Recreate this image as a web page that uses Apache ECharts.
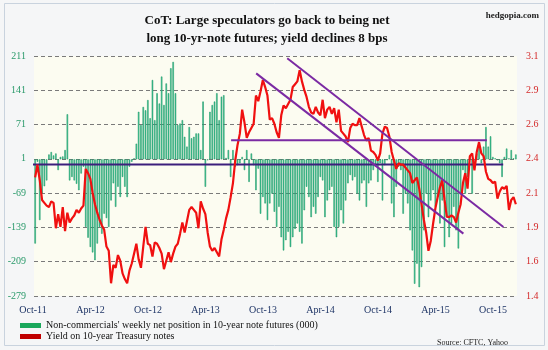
<!DOCTYPE html>
<html><head><meta charset="utf-8">
<script src="https://cdn.jsdelivr.net/npm/echarts@6/dist/echarts.min.js"></script>
<style>html,body{margin:0;padding:0;background:#fff}#c{width:548px;height:350px}</style>
</head><body><div id="c"></div>
<script>
// ---- data ----
const startDate = '2011-10-04';          // first weekly observation
const weekCount = 210;
const xTickLabels = ['Oct-11','Apr-12','Oct-12','Apr-13','Oct-13','Apr-14','Oct-14','Apr-15','Oct-15'];
const leftTicks = [-279,-209,-139,-69,1,71,141,211];
const rightTicks = [1.4,1.6,1.9,2.1,2.4,2.6,2.9,3.1];

// Non-commercials' weekly net position in 10-year note futures (000)
const netPosition = [
 -172,-5,-124,-70,-55,-43,10,15,8,12,
 -22,5,6,19,92,-43,-36,-43,-50,-63,
 -29,-15,-138,-160,-179,-190,-206,-172,-138,-152,
 -111,-120,-138,-84,-49,-97,-56,-77,-36,-56,
 -77,-15,-5,2,32,97,70,107,100,121,
 84,162,80,135,114,169,111,155,135,186,
 199,135,70,73,80,46,26,66,43,46,
 53,53,19,118,-56,-2,97,111,118,135,
 80,128,131,3,19,-36,19,-15,-12,-8,
 5,-22,19,-46,12,-12,-63,-19,-111,-77,
 -90,-124,-90,-70,-107,-138,-97,-159,-186,-165,
 -148,-179,-159,-142,-131,-148,-172,-104,-56,-77,
 -118,-97,-111,-77,-36,-43,-118,-84,-63,-56,
 -138,-159,-138,-104,-131,-84,-49,-32,-43,-36,
 -70,-84,-49,-43,-97,-49,-43,-22,-15,-46,
 -8,-84,-12,-2,9,-90,-118,-56,-15,-22,
 -111,-70,-90,-145,-186,-254,-213,-261,-220,-145,
 -70,-118,-84,-63,-97,-77,-131,-84,-179,-118,
 -159,-131,-97,-145,-182,-70,-22,-70,-36,5,
 -70,-2,12,26,-8,26,66,26,47,5,
 2,-2,-8,-36,5,22,2,19,2,10
];

// Yield on 10-year Treasury notes (%)
const yieldPct = [
 2.24,2.33,2.22,2.08,2.06,2.04,2.03,2.07,2.06,1.88,
 1.98,1.89,2.03,1.86,1.99,1.92,1.95,1.97,2.01,1.99,
 2.02,2.04,2.30,2.27,2.23,2.13,2.05,1.99,1.94,1.90,
 1.87,1.75,1.72,1.49,1.62,1.60,1.69,1.65,1.56,1.52,
 1.49,1.58,1.63,1.70,1.77,1.66,1.60,1.75,1.89,1.77,
 1.76,1.68,1.78,1.77,1.74,1.70,1.59,1.65,1.71,1.64,
 1.70,1.75,1.77,1.84,1.92,1.85,1.93,2.01,2.03,2.01,
 1.99,1.88,2.07,2.02,1.98,1.85,1.75,1.72,1.74,1.71,
 1.68,1.80,1.87,1.95,2.01,2.10,2.20,2.36,2.47,2.55,
 2.72,2.63,2.52,2.56,2.59,2.62,2.82,2.78,2.85,2.93,
 2.88,2.82,2.65,2.66,2.62,2.56,2.52,2.68,2.75,2.73,
 2.76,2.79,2.88,2.90,2.92,3.00,2.92,2.86,2.81,2.74,
 2.70,2.69,2.74,2.70,2.68,2.79,2.66,2.72,2.74,2.69,
 2.73,2.63,2.72,2.57,2.55,2.53,2.49,2.59,2.62,2.61,
 2.61,2.66,2.60,2.54,2.50,2.52,2.43,2.42,2.40,2.36,
 2.41,2.55,2.60,2.59,2.53,2.42,2.36,2.30,2.34,2.33,
 2.33,2.31,2.29,2.27,2.20,2.22,2.24,2.16,2.05,1.94,
 1.85,1.72,1.79,1.91,2.02,2.10,2.17,2.22,2.08,1.96,
 1.96,1.97,1.96,1.92,1.99,2.05,2.20,2.27,2.16,2.39,
 2.41,2.29,2.42,2.49,2.41,2.39,2.28,2.23,2.22,2.20,
 2.21,2.09,2.14,2.17,2.16,2.18,2.01,2.08,2.10,2.05
];

// hand-drawn annotation lines: [week index, yield]
const supportLine    = [[-1.2, 2.331], [203.5, 2.331]];
const resistanceLine = [[85.2, 2.504], [196.4, 2.504]];
const channelUpper   = [[109.6, 3.084], [203.6, 1.889]];
const channelLower   = [[96.1, 2.977], [186.2, 1.842]];

// weekly category dates
const weeks = [];
{ const d0 = new Date(startDate + 'T00:00:00Z');
  for (let i = 0; i < weekCount; i++) {
    const d = new Date(d0.getTime() + i * 7 * 86400000);
    weeks.push(d.toISOString().slice(0, 10));
  } }

const SERIF = '"Liberation Serif", "DejaVu Serif", serif';
const barName = "Non-commercials' weekly net position in 10-year note futures (000)";
const lineName = 'Yield on 10-year Treasury notes';

const chart = echarts.init(document.getElementById('c'), null, {renderer: 'canvas'});
chart.setOption({
  animation: false,
  backgroundColor: '#f5f6f7',
  title: [
    {text: 'CoT: Large speculators go back to being net\nlong 10-yr-note futures; yield declines 8 bps',
     left: 262, top: 7, textAlign: 'center',
     textStyle: {fontFamily: SERIF, fontWeight: 'bold', fontSize: 13, lineHeight: 18, color: '#111'}},
    {text: 'hedgopia.com', right: 4, top: 6,
     textStyle: {fontFamily: SERIF, fontWeight: 'bold', fontSize: 9, color: '#222'}},
    {text: 'Source: CFTC, Yahoo', left: 432, top: 334,
     textStyle: {fontFamily: SERIF, fontWeight: 'normal', fontSize: 8, color: '#222'}}
  ],
  legend: {
    orient: 'vertical', left: 20, top: 320, itemGap: 0, itemWidth: 21, itemHeight: 5,
    padding: 0, height: 30,
    itemStyle: {borderWidth: 0},
    textStyle: {fontFamily: SERIF, fontSize: 10, lineHeight: 11, color: '#111'},
    data: [{name: barName, icon: 'rect', itemStyle: {color: '#1aa85c', borderWidth: 0}},
           {name: lineName, icon: 'rect', itemStyle: {color: '#c00000', borderWidth: 0}}]
  },
  grid: [
    {left: 34, right: 31, top: 56, bottom: 54, show: true, backgroundColor: '#fcfcf1', borderWidth: 0},
    {left: 33, width: 460, top: 56, bottom: 54, show: false}
  ],
  xAxis: [
    {type: 'category', gridIndex: 0, data: weeks, boundaryGap: true,
     axisLine: {show: false}, axisTick: {show: false}, axisLabel: {show: false}, splitLine: {show: false}},
    {type: 'value', gridIndex: 0, min: -0.5, max: weekCount - 0.5, show: false},
    {type: 'category', gridIndex: 1, data: xTickLabels, boundaryGap: false,
     axisLine: {show: false}, axisTick: {show: false}, splitLine: {show: false},
     axisLabel: {interval: 0, margin: 9, fontFamily: SERIF, fontSize: 10, color: '#1f3566'}}
  ],
  yAxis: [
    {type: 'value', gridIndex: 0, min: -279, max: 211, show: false},
    {type: 'value', gridIndex: 0, min: 1.4, max: 3.1, show: false},
    {type: 'value', gridIndex: 0, min: 0, max: 7, interval: 1, position: 'left',
     axisLine: {show: false}, axisTick: {show: false},
     axisLabel: {margin: 8, fontFamily: SERIF, fontSize: 10, color: '#2a9a6a',
                 formatter: v => String(leftTicks[v])},
     splitLine: {show: true, lineStyle: {color: '#7a7a7a', width: 1, type: [4, 3]}}},
    {type: 'value', gridIndex: 0, min: 0, max: 7, interval: 1, position: 'right',
     axisLine: {show: false}, axisTick: {show: false}, splitLine: {show: false},
     axisLabel: {margin: 9, fontFamily: SERIF, fontSize: 10, color: '#d42a2a',
                 formatter: v => rightTicks[v].toFixed(1)}},
    {type: 'value', gridIndex: 1, show: false}
  ],
  series: [
    {name: barName, type: 'bar', xAxisIndex: 0, yAxisIndex: 0, data: netPosition,
     barWidth: '62%', z: 2,
     itemStyle: {color: '#40c99b', borderColor: '#14915f', borderWidth: 0.5}},
    {name: 'support', type: 'line', xAxisIndex: 1, yAxisIndex: 1, data: supportLine,
     symbol: 'none', z: 3, lineStyle: {color: '#3c1f7c', width: 2}},
    {name: lineName, type: 'line', xAxisIndex: 0, yAxisIndex: 1, data: yieldPct,
     symbol: 'none', z: 4, lineStyle: {color: '#f01010', width: 2.2}, itemStyle: {color: '#c00000'}},
    {name: 'resistance', type: 'line', xAxisIndex: 1, yAxisIndex: 1, data: resistanceLine,
     symbol: 'none', z: 5, lineStyle: {color: '#7b2aa3', width: 2}},
    {name: 'channelUpper', type: 'line', xAxisIndex: 1, yAxisIndex: 1, data: channelUpper,
     symbol: 'none', z: 5, lineStyle: {color: '#7b2aa3', width: 2}},
    {name: 'channelLower', type: 'line', xAxisIndex: 1, yAxisIndex: 1, data: channelLower,
     symbol: 'none', z: 5, lineStyle: {color: '#7b2aa3', width: 2}}
  ],
  graphic: [
    {type: 'rect', shape: {x: 4.5, y: 3.5, width: 540, height: 342}, silent: true, z: -1,
     style: {fill: 'none', stroke: '#c9d3de', lineWidth: 1}}
  ]
});
</script></body></html>
